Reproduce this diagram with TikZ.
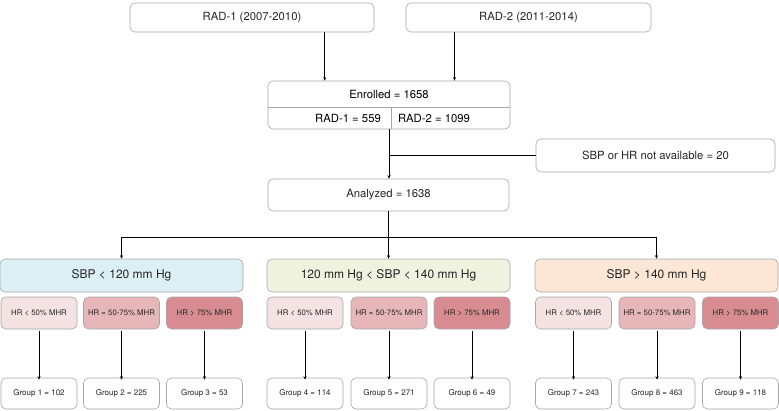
\documentclass[tikz,border=0pt]{standalone}
\usepackage{fontspec}
\setmainfont{TeX Gyre Heros}
\usetikzlibrary{arrows.meta,calc}
\definecolor{sbplo}{HTML}{DCEFF5}
\definecolor{sbpmd}{HTML}{EEF2DF}
\definecolor{sbphi}{HTML}{FCE7D6}
\definecolor{hrlo}{HTML}{F5E2E2}
\definecolor{hrmd}{HTML}{E7B6B8}
\definecolor{hrhi}{HTML}{D88C91}
\begin{document}
\begin{tikzpicture}[x=1pt,y=-1pt,>={Stealth[length=3.5pt,width=3pt]}]
        \tikzstyle{box}=[draw=black!35,line width=0.6pt,rounded corners=5pt,inner sep=0pt,text=black!85]
        \tikzstyle{big}=[box,minimum width=243pt,minimum height=33pt,font=\fontsize{12}{14}\selectfont]
        \tikzstyle{hr}=[box,minimum width=76pt,minimum height=32pt,font=\fontsize{7.8}{9}\selectfont]
        \tikzstyle{grp}=[box,fill=white,minimum width=76pt,minimum height=31pt,font=\fontsize{8}{9}\selectfont]
        \tikzstyle{edge}=[draw,line width=0.6pt]
        \useasboundingbox (0,0) rectangle (779,410);
       \begin{scope}[font=\fontsize{11.3}{13}\selectfont]
         \node [box,minimum width=244pt,minimum height=29pt] (rad1) at (252,17.5) {RAD-1 (2007-2010)};
         \node [box,minimum width=245pt,minimum height=29pt] (rad2) at (528.5,17.5) {RAD-2 (2011-2014)};
         \node [box,minimum width=242pt,minimum height=48pt] (enr) at (389,105) {};
         \node (enrt) at (389,94) {Enrolled = 1658};
         \node (enr1) at (348,118.5) {RAD-1 = 559};
         \node (enr2) at (434,118.5) {RAD-2 = 1099};
         \node [box,minimum width=239pt,minimum height=33pt] (exc) at (655.5,155.5) {SBP or HR not available = 20};
         \node [box,minimum width=241pt,minimum height=32pt] (ana) at (388.5,195) {Analyzed = 1638};
       \end{scope}
         \coordinate (in1) at ($(enr.north west)!0.235!(enr.north east)$);
         \coordinate (in2) at ($(enr.north west)!0.77!(enr.north east)$);
         \draw [draw=black!35,line width=0.6pt] (enr.west |- 0,107) -- (enr.east |- 0,107);
         \draw [draw=black!35,line width=0.6pt] (391,107) -- (391,0 |- enr.south);
         \path[edge,->] (in1 |- rad1.south) -- (in1);
         \path[edge,->] (in2 |- rad2.south) -- (in2);
         \path[edge,->] (enr.south) -- (enr.south |- ana.north);
         \path[edge] (exc.west) -- (exc.west -| enr.south);
       % blood pressure groups
         \node [big,fill=sbplo] (sbp1) at (121.5,275.5) {SBP < 120 mm Hg};
         \node [big,fill=sbpmd] (sbp2) at (388.5,275.5) {120 mm Hg < SBP < 140 mm Hg};
         \node [big,fill=sbphi] (sbp3) at (656.5,275.5) {SBP > 140 mm Hg};
         \coordinate (br) at (388.5,237);
         \path[edge,->] (ana.south) -- (sbp2.north);
         \path[edge,->] (br) -| (sbp1.north);
         \path[edge,->] (br) -| (sbp3.north);
       % heart rate
         \node [hr,fill=hrlo] (hr1) at (39,313) {HR < 50\% MHR};
         \node [hr,fill=hrmd] (hr2) at (121.5,313) {HR = 50-75\% MHR};
         \node [hr,fill=hrhi] (hr3) at (204.5,313) {HR > 75\% MHR};
         \node [hr,fill=hrlo] (hr4) at (305,313) {HR < 50\% MHR};
         \node [hr,fill=hrmd] (hr5) at (389,313) {HR = 50-75\% MHR};
         \node [hr,fill=hrhi] (hr6) at (472,313) {HR > 75\% MHR};
         \node [hr,fill=hrlo] (hr7) at (573.5,313) {HR < 50\% MHR};
         \node [hr,fill=hrmd] (hr8) at (657,313) {HR = 50-75\% MHR};
         \node [hr,fill=hrhi] (hr9) at (740.5,313) {HR > 75\% MHR};
       % final groups
         \node [grp] (g1) at (39,393.5) {Group 1 = 102};
         \node [grp] (g2) at (121.5,393.5) {Group 2 = 225};
         \node [grp] (g3) at (204.5,393.5) {Group 3 = 53};
         \node [grp] (g4) at (305,393.5) {Group 4 = 114};
         \node [grp] (g5) at (389,393.5) {Group 5 = 271};
         \node [grp] (g6) at (472,393.5) {Group 6 = 49};
         \node [grp] (g7) at (573.5,393.5) {Group 7 = 243};
         \node [grp] (g8) at (657,393.5) {Group 8 = 463};
         \node [grp] (g9) at (740.5,393.5) {Group 9 = 118};
         \foreach \i in {1,...,9}
           \path[edge,->] ([yshift=-1.5pt]hr\i.south) -- ([yshift=-2pt]g\i.north);
      \end{tikzpicture}
\end{document}
